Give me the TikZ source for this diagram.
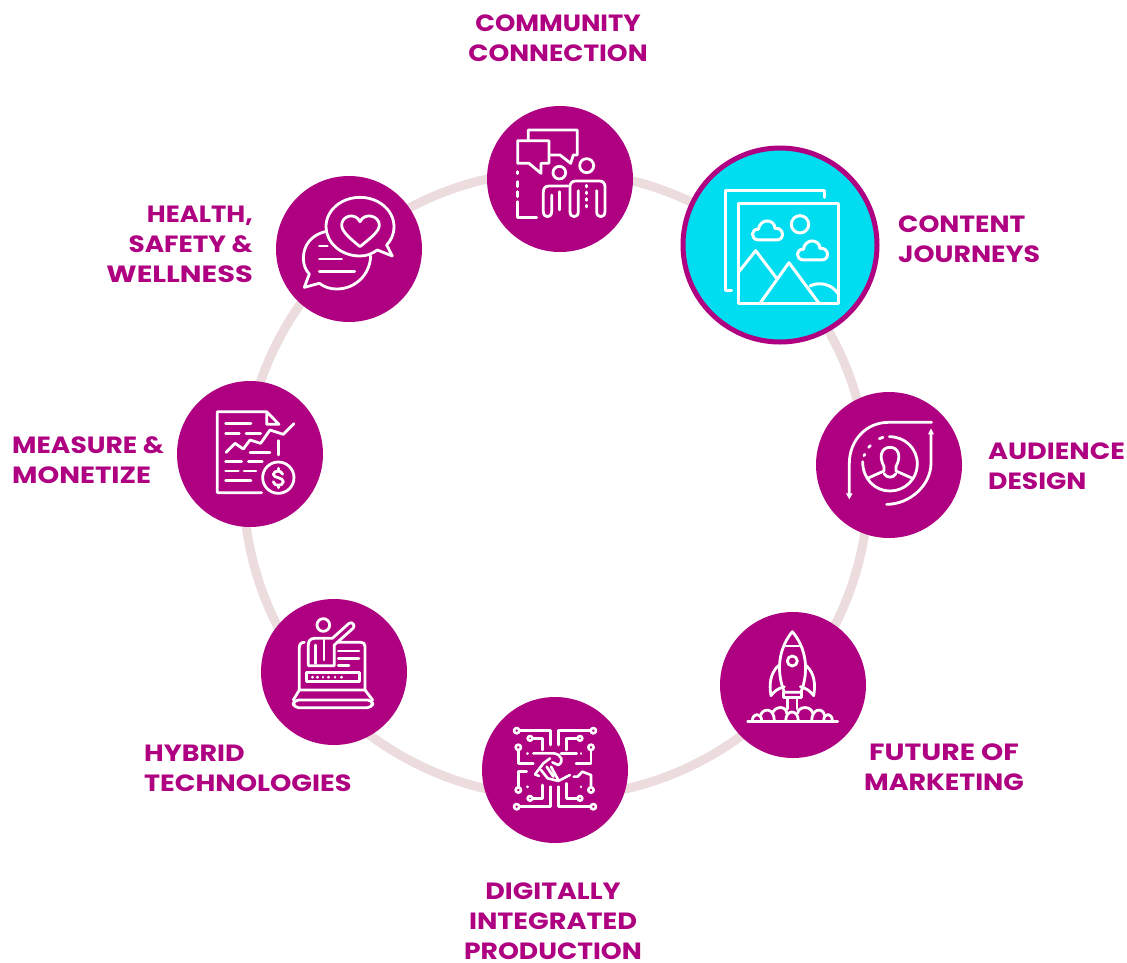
\documentclass[tikz,border=0pt]{standalone}
\usepackage{graphicx}
\usepackage{fontspec}
\setmainfont[FakeStretch=1.10]{Poppins}
\definecolor{mag}{RGB}{174,0,128}
\definecolor{cyanfill}{RGB}{0,220,240}
\definecolor{ringc}{RGB}{236,220,222}
\newcommand{\wid}[2]{\scalebox{#1}[1]{#2}}
\tikzset{
  disc/.style={circle,fill=mag,inner sep=0pt,minimum size=146pt},
  lab/.style={text=mag,font=\bfseries\fontsize{23.5}{30}\selectfont,inner sep=0pt},
  ico/.style={x=0.3333pt,y=-0.3333pt,draw=white,line width=2.8pt,line join=round,line cap=round},
  pen/.style={draw=white,fill=none},
}
\begin{document}
\begin{tikzpicture}[x=1pt,y=-1pt]
\useasboundingbox[fill=white] (0,0) rectangle (1127,962);
\coordinate (c) at (556,484);
\draw[ringc,line width=9pt] (c) circle[radius=312.6];

\node[disc] (community) at (560,179) {};
\node[circle,fill=cyanfill,draw=mag,line width=5pt,inner sep=0pt,minimum size=194pt] (content) at (780,245) {};
\node[disc] (audience) at (889,465) {};
\node[disc] (future) at (793,685) {};
\node[disc] (digital) at (555,770) {};
\node[disc] (hybrid) at (334,672) {};
\node[disc] (measure) at (250,454) {};
\node[disc] (health) at (349,249) {};

\node[lab,align=center] (lcommunity) at (558,38) {COMMUNITY\\\wid{1.023}{CONNECTION}};
\node[lab,align=left,anchor=west] (lcontent) at (898,239) {\wid{1.03}{CONTENT}\\\wid{1.036}{JOURNEYS}};
\node[lab,align=left,anchor=west] (laudience) at (988,466) {\wid{1.046}{AUDIENCE}\\\wid{1.03}{DESIGN}};
\node[lab,align=center] (lfuture) at (944,767) {\wid{1.095}{FUTURE OF}\\\wid{1.04}{MARKETING}};
\node[lab,align=center] (ldigital) at (553,921.5) {\wid{1.04}{DIGITALLY}\\\wid{1.05}{INTEGRATED}\\\wid{1.03}{PRODUCTION}};
\node[lab,align=left,anchor=west] (lhybrid) at (144,768) {\wid{1.04}{HYBRID}\\\wid{1.05}{TECHNOLOGIES}};
\node[lab,align=left,anchor=west] (lmeasure) at (12,460) {\wid{1.027}{MEASURE \&}\\\wid{1.07}{MONETIZE}};
\node[lab,align=right,anchor=east] (lhealth) at (253,244.5) {HEALTH,\\\wid{1.02}{SAFETY \&}\\\wid{1.117}{WELLNESS}};

% community icon
\begin{scope}[shift={(505,120)},ico]
\path[pen] (70,62) -- (70,30) -- (217,30) -- (217,105) -- (205,105) -- (197,130) -- (165,105) -- (135,105);
\path[pen] (38,62) -- (132,62) -- (132,130) -- (108,130) -- (108,160) -- (72,130) -- (38,130) -- cycle;
\path[pen] (38,155) -- (38,161) (38,185) -- (38,200) (38,215) -- (38,230);
\path[pen] (38,245) -- (38,292) -- (95,292);
\path[pen] (163,158) circle[radius=19];
\path[pen] (245,137) circle[radius=21];
\path[pen] (190,198) -- (132,198) .. controls (120,198) and (115,206) .. (115,216) -- (115,275) .. controls (115,295) and (140,295) .. (140,275) -- (140,225);
\path[pen] (163,215) -- (163,270);
\path[pen] (195,275) .. controls (195,295) and (220,295) .. (220,275) -- (220,212);
\path[pen] (195,275) -- (195,200) .. controls (195,190) and (202,183) .. (212,183) -- (283,183) .. controls (294,183) and (300,190) .. (300,200) -- (300,275) .. controls (300,295) and (275,295) .. (275,275) -- (275,212);
\path[pen] (245,196) -- (245,201) (245,216) -- (245,221) (245,236) -- (245,241) (245,256) -- (245,261);
\end{scope}

% content icon
\begin{scope}[shift={(675,140)},ico,line width=3pt]
\path[pen] (170,452) -- (150,452) -- (150,152) -- (450,152) -- (450,172);
\path[pen] (190,190) rectangle (492,492);
\path[pen] (375,253) circle[radius=26];
\path[pen] (250,300) .. controls (225,298) and (228,265) .. (250,268) .. controls (255,235) and (298,235) .. (300,265) .. controls (328,262) and (330,300) .. (305,300) -- cycle;
\path[pen] (385,360) .. controls (360,358) and (363,325) .. (385,328) .. controls (390,295) and (433,295) .. (435,325) .. controls (463,322) and (465,360) .. (440,360) -- cycle;
\path[pen] (192,395) -- (242,332) -- (305,415);
\path[pen] (255,490) -- (342,368) -- (432,490);
\path[pen] (405,438) .. controls (430,425) and (470,430) .. (490,462);
\end{scope}

% audience icon
\begin{scope}[shift={(810,385)},ico]
\path[pen] (118,330) -- (118,235) .. controls (118,165) and (170,112) .. (235,112) -- (365,112);
\fill[white] (108,325) -- (128,325) -- (118,343) -- cycle;
\path[pen] (230,358) .. controls (300,358) and (363,300) .. (363,235) -- (363,145);
\fill[white] (354,148) -- (372,148) -- (363,130) -- cycle;
\path[pen] (238,155) .. controls (285,155) and (322,190) .. (322,237) .. controls (322,282) and (285,318) .. (240,318) .. controls (195,318) and (158,282) .. (158,230);
\path[pen] (162,212) -- (164,208) (176,187) -- (181,182) (208,161) -- (219,157);
\path[pen] (222,245) .. controls (205,212) and (215,187) .. (240,187) .. controls (265,187) and (275,212) .. (258,245) (222,245) -- (222,258) -- (177,278);
\path[pen] (258,245) -- (258,258) -- (303,278);
\path[pen] (222,266) .. controls (230,280) and (250,280) .. (258,266);
\end{scope}

% rocket icon
\begin{scope}[shift={(715,605)},ico]
\path[pen] (232,80) .. controls (195,125) and (180,190) .. (208,262) -- (258,262) .. controls (285,190) and (270,125) .. (232,80) -- cycle;
\path[pen] (212,123) -- (252,123);
\path[pen] (232,168) circle[radius=15];
\path[pen] (190,182) .. controls (165,205) and (162,240) .. (168,272) .. controls (178,258) and (190,250) .. (208,245);
\path[pen] (274,182) .. controls (299,205) and (302,240) .. (296,272) .. controls (286,258) and (274,250) .. (256,245);
\path[pen] (206,262) -- (206,278) -- (260,278) -- (260,262);
\path[pen] (218,278) -- (218,312) (246,278) -- (246,312);
\path[pen] (98,350) -- (368,350);
\path[pen] (112,348) .. controls (112,322) and (140,322) .. (140,348);
\path[pen] (137,330) .. controls (145,308) and (178,308) .. (178,348);
\path[pen] (172,325) .. controls (180,302) and (215,302) .. (215,325);
\path[pen] (212,348) .. controls (212,312) and (250,312) .. (250,348);
\path[pen] (248,325) .. controls (250,302) and (290,302) .. (293,325);
\path[pen] (290,348) .. controls (290,308) and (325,308) .. (328,330);
\path[pen] (326,348) .. controls (326,322) and (352,322) .. (352,348);
\end{scope}

% digital icon
\begin{scope}[shift={(505,720)},ico,line width=2.6pt]
\foreach \px/\py/\pr in {35/32/8,265/32/8,75/55/7,225/55/7,40/82/8,258/82/8,40/210/8,258/210/8,75/235/7,225/235/7,35/260/8,265/260/8}
  \path[pen] (\px,\py) circle[radius=\pr];
\path[pen] (43,32) -- (137,32) -- (137,75);
\path[pen] (257,32) -- (160,32) -- (160,75);
\path[pen] (82,55) -- (112,55) -- (112,90);
\path[pen] (218,55) -- (185,55) -- (185,90);
\path[pen] (40,90) -- (40,130) -- (85,130);
\path[pen] (258,90) -- (258,130) -- (213,130);
\path[pen] (85,100) -- (145,100) .. controls (170,102) and (178,125) .. (160,135) -- (142,127);
\path[pen] (168,100) -- (215,100);
\path[pen] (68,100) -- (68,101) (228,100) -- (228,101) (68,200) -- (68,201) (228,200) -- (228,201);
\path[pen] (90,163) -- (115,130) -- (135,115);
\path[pen] (108,150) -- (128,175) (125,140) -- (145,170) (138,140) -- (160,180);
\path[pen] (90,163) -- (102,168);
\path[pen] (128,175) -- (160,183) -- (195,165);
\path[pen] (65,155) -- (40,155) -- (40,202);
\path[pen] (82,235) -- (112,235) -- (112,195);
\path[pen] (43,260) -- (137,260) -- (137,200);
\path[pen] (160,200) -- (160,260) -- (257,260);
\path[pen] (218,235) -- (185,235) -- (185,190);
\path[pen] (258,202) -- (258,165) -- (232,155) -- (218,170) -- (206,170);
\end{scope}

% laptop icon
\begin{scope}[shift={(255,595)},ico]
\path[pen] (205,90) circle[radius=19];
\path[pen] (160,212) -- (160,150) .. controls (160,138) and (166,130) .. (178,130) -- (232,130) -- (282,85) .. controls (292,78) and (302,92) .. (294,100) -- (238,150) -- (238,212) -- cycle;
\path[pen] (182,150) -- (182,205);
\path[pen] (207,135) -- (207,195);
\path[pen] (148,142) .. controls (138,142) and (133,148) .. (133,158) -- (133,285) -- (330,285) -- (330,155) .. controls (330,146) and (326,142) .. (318,142) -- (246,142);
\path[pen] (250,168) -- (312,168) (250,190) -- (312,190) (250,212) -- (282,212);
\path[pen] (155,233) rectangle (313,260);
\foreach \dx in {172,188,204,221,240,260} \path[pen] (\dx,246) -- (\dx,247);
\path[pen] (133,285) -- (115,315) (330,285) -- (353,315);
\path[pen,rounded corners=5pt] (115,315) rectangle (353,338);
\end{scope}

% measure icon
\begin{scope}[shift={(170,375)},ico]
\path[pen] (275,353) -- (142,353) -- (142,110) -- (290,110) -- (327,148) -- (290,148) -- (290,110);
\path[pen] (167,146) -- (243,146) (167,175) -- (208,175) (228,175) -- (272,175);
\path[pen] (168,232) -- (195,205) -- (220,222) -- (240,195) -- (272,205) -- (300,165) -- (340,178) -- (372,146);
\path[pen] (240,232) -- (300,232) (325,197) -- (325,240);
\path[pen] (167,260) -- (215,260) (235,260) -- (277,260) (167,288) -- (205,288) (222,288) -- (258,288) (167,316) -- (243,316);
\path[pen] (325,308) circle[radius=47];
\path[pen] (338,298) .. controls (335,285) and (312,285) .. (310,298) .. controls (310,310) and (340,306) .. (340,320) .. controls (338,335) and (312,335) .. (310,320);
\path[pen] (325,280) -- (325,288) (325,330) -- (325,338);
\end{scope}

% health icon
\begin{scope}[shift={(270,170)},ico]
\path[pen] (322,240) .. controls (305,252) and (290,258) .. (270,258) .. controls (210,258) and (168,215) .. (168,170) .. controls (168,120) and (215,82) .. (270,82) .. controls (325,82) and (372,120) .. (372,170) .. controls (372,195) and (362,212) .. (350,225) -- (367,258) -- cycle;
\path[pen] (165,185) .. controls (125,195) and (100,225) .. (100,265) .. controls (100,285) and (108,302) .. (118,312) -- (103,352) -- (148,340) .. controls (165,352) and (180,357) .. (200,357) .. controls (255,357) and (300,315) .. (302,258);
\path[pen] (270,230) .. controls (240,205) and (215,185) .. (215,165) .. controls (215,138) and (255,125) .. (270,155) .. controls (285,125) and (328,138) .. (328,165) .. controls (328,185) and (300,205) .. (270,230) -- cycle;
\path[pen] (148,228) -- (172,228) (148,267) -- (215,267) (148,305) -- (254,305);
\end{scope}
\end{tikzpicture}
\end{document}
